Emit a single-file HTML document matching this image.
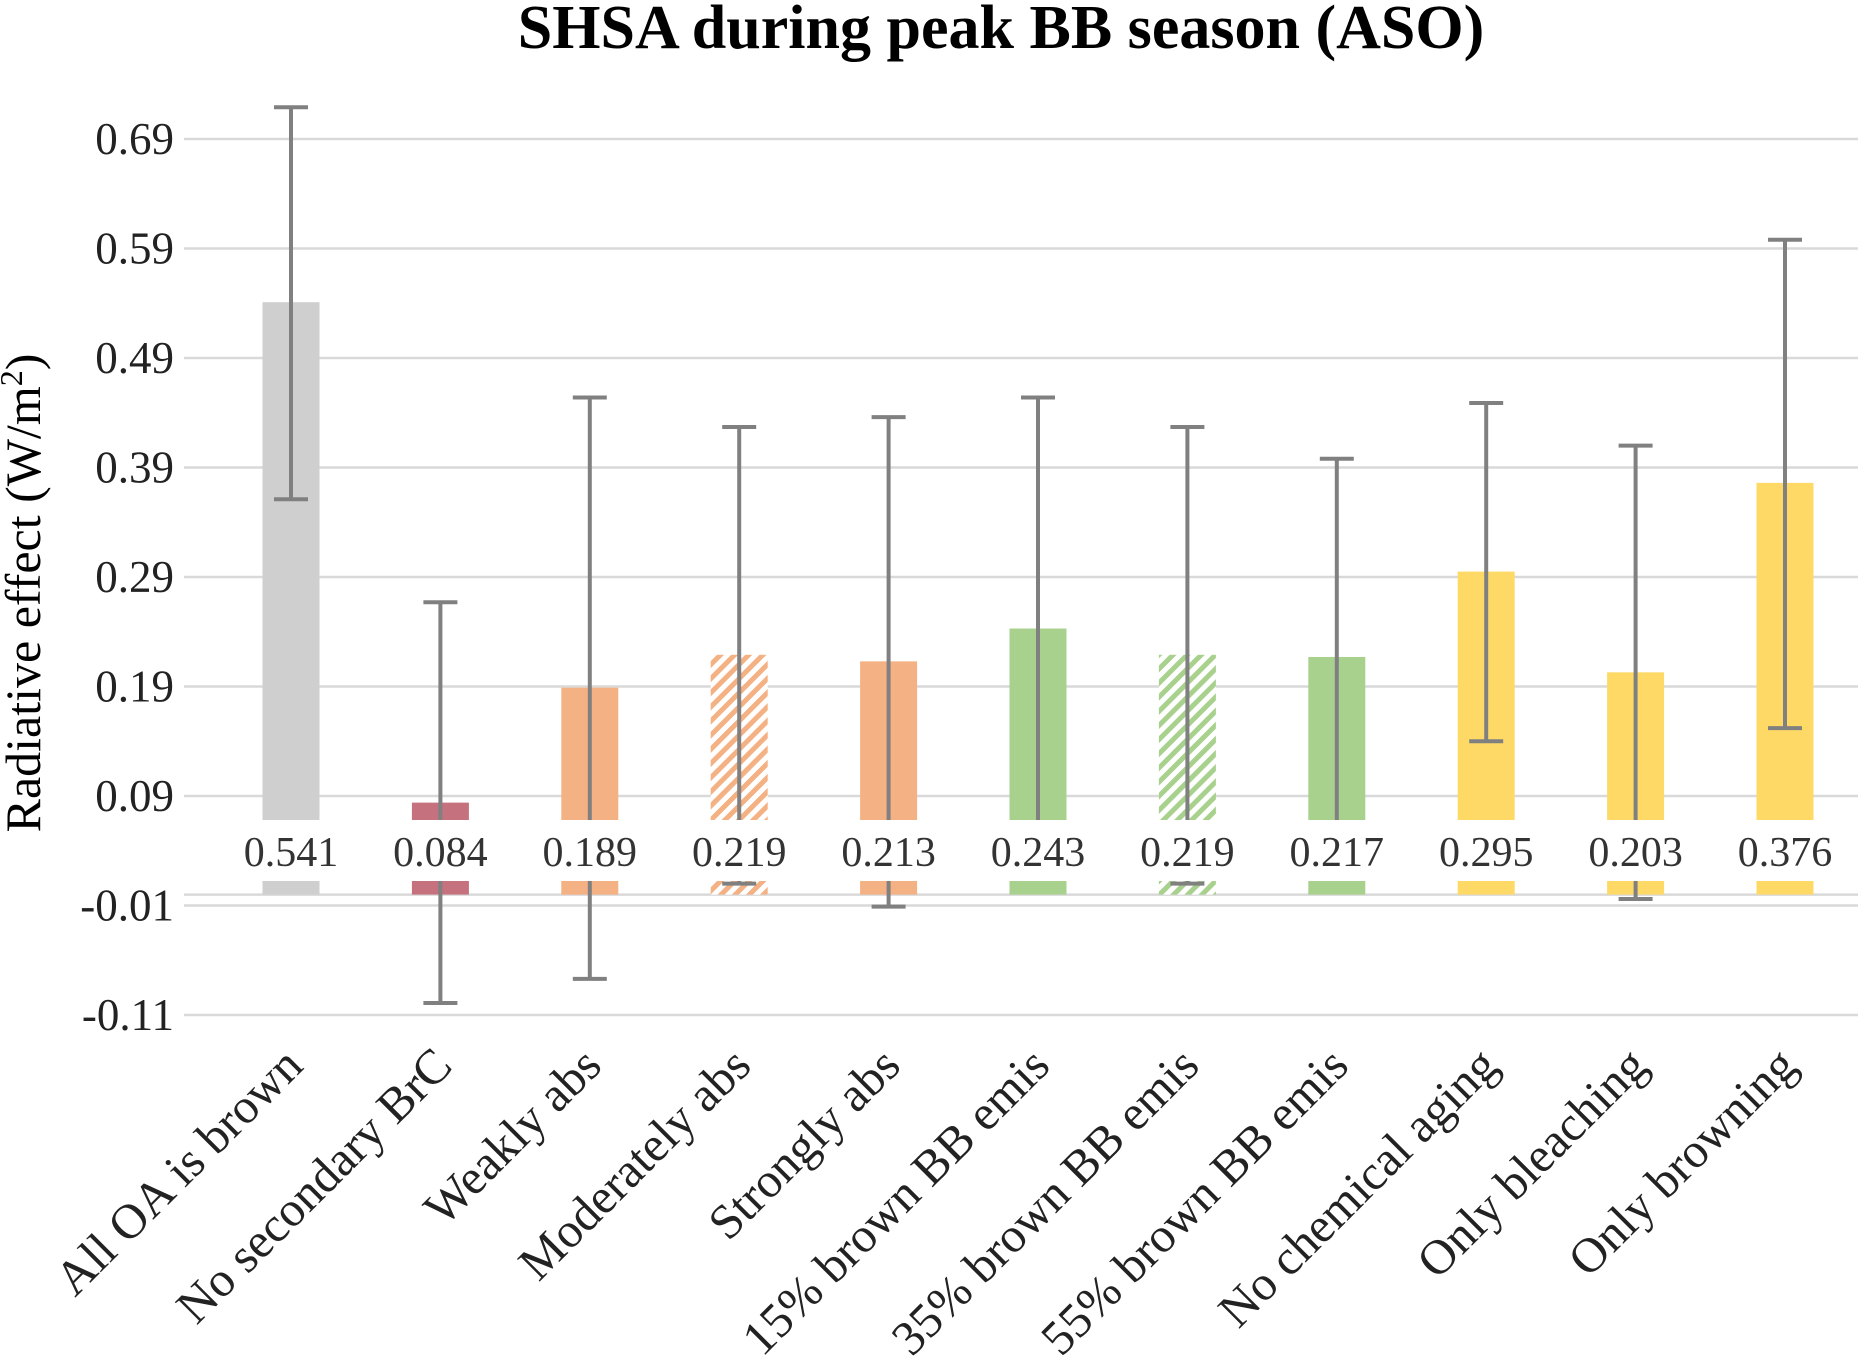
<!DOCTYPE html>
<html><head><meta charset="utf-8"><style>
html,body{margin:0;padding:0;background:#fff;}
svg{display:block;font-family:"Liberation Serif",serif;}
</style></head><body>
<svg id="chart" width="1861" height="1358" viewBox="0 0 1861 1358">
<defs>
<pattern id="hatchO" patternUnits="userSpaceOnUse" width="10" height="10" patternTransform="rotate(-45)">
<rect width="10" height="10" fill="#fff"/><rect width="10" height="5" fill="#f4b183"/></pattern>
<pattern id="hatchG" patternUnits="userSpaceOnUse" width="10" height="10" patternTransform="rotate(-45)">
<rect width="10" height="10" fill="#fff"/><rect width="10" height="5" fill="#a9d18e"/></pattern>
</defs>
<text x="1001" y="48" text-anchor="middle" font-size="62" font-weight="bold" fill="#000">SHSA during peak BB season (ASO)</text>
<text transform="translate(40,593) rotate(-90)" text-anchor="middle" font-size="50" fill="#000">Radiative effect (W/m<tspan baseline-shift="super" font-size="32">2</tspan>)</text>
<g id="grid"></g><g id="bars"></g><g id="errs"></g><g id="labels"></g><g id="cats"></g>
</svg>
<script>
const categories=["All OA is brown","No secondary BrC","Weakly abs","Moderately abs","Strongly abs","15% brown BB emis","35% brown BB emis","55% brown BB emis","No chemical aging","Only bleaching","Only browning"];
const values=[0.541,0.084,0.189,0.219,0.213,0.243,0.219,0.217,0.295,0.203,0.376];
const errHigh=[0.719,0.267,0.454,0.427,0.436,0.454,0.427,0.398,0.449,0.410,0.598];
const errLow=[0.361,-0.099,-0.077,0.010,-0.011,0.04,0.010,0.04,0.140,-0.004,0.152];
const fills=["#d0cfcf","#c5727e","#f4b183","url(#hatchO)","#f4b183","#a9d18e","url(#hatchG)","#a9d18e","#ffd966","#ffd966","#ffd966"];
const ticks=[0.69,0.59,0.49,0.39,0.29,0.19,0.09,-0.01,-0.11];
const tickLabels=["0.69","0.59","0.49","0.39","0.29","0.19","0.09","-0.01","-0.11"];
const NS="http://www.w3.org/2000/svg";
const y=v=>894.6-v*1095;
const x=i=>291+i*149.4;
const plotL=184,plotR=1858,bw=57;
function mk(tag,attrs,parent,txt){const e=document.createElementNS(NS,tag);for(const k in attrs)e.setAttribute(k,attrs[k]);if(txt!==undefined)e.textContent=txt;document.getElementById(parent).appendChild(e);return e;}
ticks.forEach((t,i)=>{
 const l=mk("line",{x1:plotL,x2:plotR,y1:y(t),y2:y(t),stroke:"#d9d9d9","stroke-width":2.5},"grid");
 
 
 const tx=mk("text",{x:174,y:y(t)+15,"text-anchor":"end","font-size":45,fill:"#222"},"grid",tickLabels[i]);
 
 
});
const ax=mk("line",{x1:plotL,x2:plotR,y1:y(0),y2:y(0),stroke:"#d9d9d9","stroke-width":2.5},"grid");


values.forEach((v,i)=>{
 const b=mk("rect",{x:x(i)-bw/2,y:Math.min(y(v),y(0)),width:bw,height:Math.abs(y(0)-y(v)),fill:fills[i]},"bars");
 
 
 const e1=mk("line",{x1:x(i),x2:x(i),y1:y(errHigh[i]),y2:y(errLow[i]),stroke:"#808080","stroke-width":4},"errs");
 
 
 [errHigh[i],errLow[i]].forEach(ev=>{
  const c=mk("line",{x1:x(i)-17,x2:x(i)+17,y1:y(ev),y2:y(ev),stroke:"#808080","stroke-width":4},"errs");
  
  
 });
 const m=mk("rect",{x:x(i)-62,y:820,width:124,height:61,fill:"#fff"},"labels");
 
 
 const lt=mk("text",{x:x(i),y:866,"text-anchor":"middle","font-size":42,fill:"#333"},"labels",values[i].toFixed(3));
 
 
 const ct=mk("text",{transform:`translate(${x(i)+14},${1068}) rotate(-45)`,"text-anchor":"end","font-size":49,fill:"#222"},"cats",categories[i]);
 
 
});
</script>
</body></html>
